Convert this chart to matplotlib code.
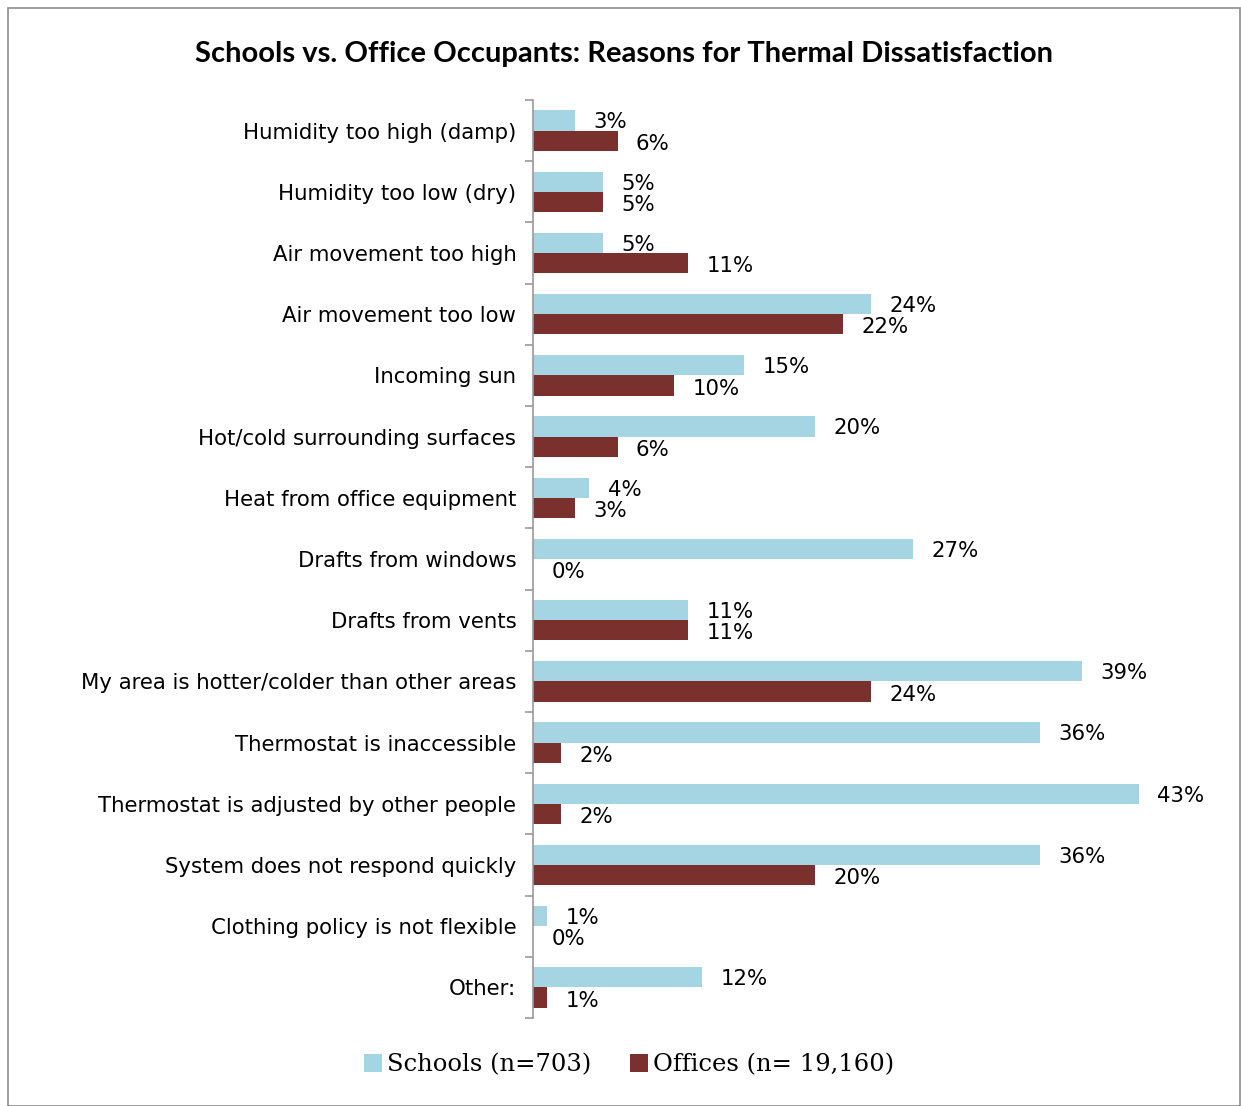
import matplotlib.pyplot as plt
import numpy as np
from matplotlib.patches import Rectangle

reasons = [
    'Humidity too high (damp)',
    'Humidity too low (dry)',
    'Air movement too high',
    'Air movement too low',
    'Incoming sun',
    'Hot/cold surrounding surfaces',
    'Heat from office equipment',
    'Drafts from windows',
    'Drafts from vents',
    'My area is hotter/colder than other areas',
    'Thermostat is inaccessible',
    'Thermostat is adjusted by other people',
    'System does not respond quickly',
    'Clothing policy is not flexible',
    'Other:',
]
schools = [3, 5, 5, 24, 15, 20, 4, 27, 11, 39, 36, 43, 36, 1, 12]
offices = [6, 5, 11, 22, 10, 6, 3, 0, 11, 24, 2, 2, 20, 0, 1]

schools_color = '#A5D5E3'
offices_color = '#7A302D'

W, H = 1241, 1106
fig = plt.figure(figsize=(W / 100, H / 100), dpi=100)

# axes placed in pixel terms of the original picture
left, right, top, bottom = 533, 1167, 100, 1018
ax = fig.add_axes([left / W, 1 - bottom / H, (right - left) / W, (bottom - top) / H])

n = len(reasons)
y = np.arange(n)
bar_h = 0.33
ax.barh(y - bar_h / 2, schools, bar_h, color=schools_color, label='Schools (n=703)')
ax.barh(y + bar_h / 2, offices, bar_h, color=offices_color, label='Offices (n= 19,160)')

label_font = dict(family='DejaVu Sans', fontsize=15.3)
for i in range(n):
    ax.text(schools[i] + 1.3, i - bar_h / 2 + 0.03, f'{schools[i]}%', va='center', ha='left', **label_font)
    ax.text(offices[i] + 1.3, i + bar_h / 2 + 0.05, f'{offices[i]}%', va='center', ha='left', **label_font)

ax.set_ylim(n - 0.5, -0.5)
ax.set_xlim(0, 45)
ax.set_yticks(y)
ax.set_yticklabels(reasons, **label_font)
ax.tick_params(axis='y', which='major', length=0, pad=12)
ax.set_yticks(np.arange(-0.5, n, 1), minor=True)
ax.tick_params(axis='y', which='minor', length=6, width=1.2, color='#999999', direction='out')
ax.set_xticks([])
for s in ['top', 'right', 'bottom']:
    ax.spines[s].set_visible(False)
ax.spines['left'].set_color('#999999')
ax.spines['left'].set_linewidth(1.2)

fig.text(624 / W, 1 - 54 / H, 'Schools vs. Office Occupants: Reasons for Thermal Dissatisfaction',
         ha='center', va='center', fontsize=21, fontweight='bold', family='Lato')

leg = fig.legend(loc='center', bbox_to_anchor=(629 / W, 1 - 1065 / H), ncol=2, frameon=False,
                 prop={'family': 'DejaVu Serif', 'size': 17.5}, handlelength=0.75, handleheight=0.75,
                 handletextpad=0.2, columnspacing=1.6)

# outer chart border
fig.patches.append(Rectangle((8 / W, 0), (W - 9) / W, 1 - 8 / H, transform=fig.transFigure,
                             fill=False, edgecolor='#8c8c8c', linewidth=1.2))

fig.savefig('out.png', dpi=100)
